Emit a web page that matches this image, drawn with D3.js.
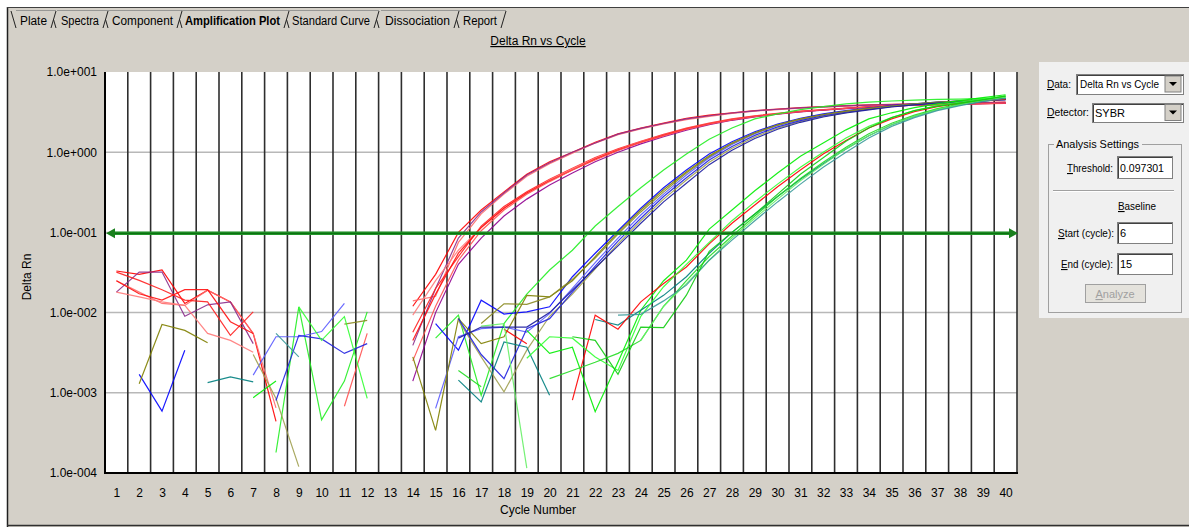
<!DOCTYPE html>
<html><head><meta charset="utf-8">
<script src="https://cdn.jsdelivr.net/npm/d3@7"></script>
<style>
html,body{margin:0;padding:0;background:#fff;overflow:hidden}
svg{display:block;font-family:"Liberation Sans",Arial,sans-serif}
</style></head><body>
<svg id="c" width="1189" height="527"></svg>
<script>
const _ = null;
const cycles = [1,2,3,4,5,6,7,8,9,10,11,12,13,14,15,16,17,18,19,20,21,22,23,24,25,26,27,28,29,30,31,32,33,34,35,36,37,38,39,40];
const yTicks = [10, 1, 0.1, 0.01, 0.001, 0.0001];
const yTickLabels = ["1.0e+001","1.0e+000","1.0e-001","1.0e-002","1.0e-003","1.0e-004"];
const threshold = 0.097301;
const tabNames = ["Plate","Spectra","Component","Amplification Plot","Standard Curve","Dissociation","Report"];
const activeTab = "Amplification Plot";
const chartTitle = "Delta Rn vs Cycle";
const xTitle = "Cycle Number";
const yTitle = "Delta Rn";
const dataSelection = "Delta Rn vs Cycle";
const detector = "SYBR";
const baselineStart = "6";
const baselineEnd = "15";

// Group A (early amplifiers, red / purple)
const A1 = [0.033,0.030,0.034,0.013,0.019,0.0136,0.0055,0.00044,_,_, _,_,_,0.012,0.03,0.10,0.19,0.32,0.53,0.76, 1.0,1.33,1.7,2.0,2.3,2.65,2.9,3.1,3.3,3.45, 3.6,3.7,3.8,3.9,3.95,4.0,4.05,4.1,4.15,4.2];
const A2 = [0.025,0.018,0.013,0.0123,0.019,0.0136,0.0055,0.00065,_,_, _,_,_,0.014,0.016,0.075,0.17,0.30,0.50,0.72, 0.97,1.3,1.65,1.95,2.25,2.55,2.8,3.05,3.25,3.4, 3.55,3.65,3.75,3.85,3.9,3.95,4.0,4.05,4.1,4.15];
const A3 = [0.018,0.032,0.032,0.009,0.0125,0.0136,0.0041,_,_,_, _,_,_,0.0039,0.02,0.085,0.18,0.31,0.52,0.74, 1.0,1.3,1.68,1.98,2.28,2.6,2.85,3.08,3.28,3.43, 3.57,3.68,3.78,3.87,3.93,3.98,4.03,4.08,4.12,4.17];
const A4 = [0.032,0.0252,0.0193,0.0143,0.0136,0.0052,0.0102,_,_,_, _,_,_,0.0057,0.02,0.05,0.12,0.21,0.32,0.46, 0.63,0.86,1.1,1.37,1.67,2.0,2.3,2.6,2.85,3.05, 3.25,3.4,3.55,3.7,3.8,3.9,3.95,4.0,4.05,4.1];
const A5 = [0.018,0.0157,0.0136,0.0123,0.0055,0.0045,0.0032,_,_,_, _,_,_,0.0093,0.025,0.06,0.115,0.2,0.31,0.45, 0.62,0.84,1.08,1.35,1.64,1.97,2.27,2.57,2.82,3.03, 3.22,3.38,3.53,3.67,3.78,3.88,3.94,3.99,4.04,4.09];
const A6 = [0.025,0.0172,0.0143,0.0193,0.0193,0.0077,0.0055,_,_,_, _,_,_,0.0045,0.017,0.055,0.115,0.2,0.31,0.44, 0.6,0.82,1.06,1.33,1.62,1.95,2.25,2.55,2.8,3.0, 3.2,3.36,3.51,3.65,3.76,3.86,3.92,3.97,4.02,4.07];
const A7 = [_,_,_,_,_,_,_,_,_,_, _,_,_,0.0014,0.01,0.04,0.085,0.16,0.26,0.39, 0.55,0.76,1.0,1.27,1.56,1.88,2.2,2.5,2.76,2.98, 3.18,3.34,3.5,3.64,3.75,3.85,3.92,3.98,4.03,4.08];
const A8 = [_,_,_,_,_,_,_,_,_,_, 0.00068,0.0055,_,0.0025,0.012,0.045,0.105,0.19,0.3,0.43, 0.6,0.8,1.05,1.32,1.6,1.93,2.24,2.53,2.78,3.0, 3.2,3.37,3.52,3.66,3.77,3.87,3.93,3.98,4.03,4.08];
// Group B (middle amplifiers, green / blue / olive)
const B1 = [_,_,_,_,_,_,_,0.00018,0.0118,0.00046, 0.0014,0.0102,_,_,0.0048,0.0093,0.00093,0.0073,0.017,0.034, 0.06,0.12,0.21,0.36,0.6,0.95,1.45,2.0,2.6,3.0, 3.4,3.7,4.0,4.2,4.35,4.45,4.55,4.6,4.7,4.8];
const B2 = [_,0.0017,0.00059,0.0034,_,_,_,_,_,_, _,_,_,_,0.0073,0.0034,0.0143,0.0096,0.0102,0.0118, 0.028,0.055,0.105,0.2,0.36,0.6,0.95,1.35,1.8,2.25, 2.65,3.0,3.3,3.55,3.8,4.0,4.2,4.35,4.5,4.6];
const B3 = [_,_,_,_,_,_,0.00166,0.005,0.005,0.0058, 0.013,_,_,_,0.00064,0.005,0.0063,0.0066,0.0057,0.0097, 0.02,0.042,0.085,0.165,0.3,0.52,0.85,1.25,1.7,2.15, 2.55,2.9,3.2,3.5,3.75,3.98,4.18,4.33,4.48,4.58];
const B4 = [_,0.0013,0.0071,0.006,0.0042,_,_,_,_,_, _,_,_,0.0028,0.00034,0.0084,0.0041,0.005,0.0164,0.0157, 0.025,0.05,0.1,0.19,0.34,0.57,0.9,1.3,1.75,2.2, 2.6,2.95,3.25,3.52,3.77,4.0,4.2,4.35,4.5,4.6];
const B5 = [_,_,_,_,_,_,0.003,0.00085,0.00012,_, _,_,_,_,_,0.008,0.0028,0.00103,0.0034,0.009, 0.017,0.035,0.072,0.14,0.26,0.45,0.75,1.12,1.55,2.0, 2.42,2.8,3.12,3.42,3.7,3.93,4.13,4.28,4.43,4.53];
const B6 = [_,_,_,_,_,_,_,0.0008,0.0052,0.0047, 0.0031,0.0041,_,_,_,0.0084,0.003,0.0015,0.0063,0.0084, 0.018,0.038,0.078,0.15,0.28,0.48,0.8,1.18,1.62,2.07, 2.48,2.85,3.16,3.45,3.72,3.95,4.15,4.3,4.45,4.55];
const B7 = [_,_,_,_,_,_,_,_,_,_, 0.0072,0.008,_,_,_,_,0.0073,0.0129,0.0127,0.0157, 0.026,0.048,0.095,0.18,0.32,0.55,0.88,1.28,1.73,2.18, 2.58,2.93,3.23,3.5,3.76,3.99,4.19,4.34,4.49,4.59];
const B8 = [_,_,_,_,_,_,_,_,_,_, _,_,_,_,_,0.0048,0.0066,0.0066,0.0066,0.01, 0.019,0.036,0.068,0.13,0.24,0.41,0.7,1.06,1.48,1.93, 2.36,2.75,3.08,3.38,3.66,3.9,4.1,4.25,4.4,4.5];
// Group C (late amplifiers, green / teal / red)
const C1 = [_,_,_,_,_,_,0.00087,0.0014,_,_, _,_,_,_,_,_,_,_,0.006,0.0031, 0.0037,0.00058,0.0024,0.0107,0.025,0.045,0.11,0.19,0.33,0.55, 0.89,1.3,1.9,2.6,3.1,3.6,4.0,4.4,4.8,5.2];
const C2 = [_,_,_,_,0.00134,0.00158,0.00137,_,_,_, _,_,_,_,_,0.00144,0.00077,0.0043,0.0037,0.00093, _,0.0082,0.007,0.0107,0.0164,0.028,0.055,0.1,0.17,0.28, 0.46,0.72,1.1,1.6,2.2,2.8,3.4,3.9,4.3,4.7];
const C3 = [_,_,_,_,_,_,_,_,_,_, _,_,_,_,_,_,_,0.0062,0.0041,_, 0.00081,0.0093,0.0062,0.0136,0.023,0.037,0.072,0.13,0.22,0.37, 0.6,0.95,1.4,2.0,2.6,3.2,3.7,4.1,4.4,4.6];
const C4 = [_,_,_,_,_,_,_,_,0.0118,0.0045, 0.0089,0.00085,_,_,_,_,_,_,0.0027,0.005, 0.0048,0.0028,0.0019,0.009,0.021,0.04,0.075,0.14,0.24,0.4, 0.65,1.0,1.5,2.1,2.7,3.3,3.8,4.2,4.6,5.0];
const C5 = [_,_,_,_,_,_,_,_,_,_, _,_,_,_,_,0.0019,0.00119,_,_,0.0015, 0.0019,0.0024,0.0031,0.0045,0.012,0.025,0.05,0.09,0.16,0.28, 0.47,0.75,1.15,1.7,2.3,2.9,3.5,4.0,4.5,5.0];
const C6 = [_,_,_,_,_,_,_,_,_,_, _,_,_,_,_,_,0.0068,0.0073,0.000115,_, _,_,_,0.0045,0.012,0.023,0.045,0.085,0.15,0.26, 0.44,0.7,1.1,1.6,2.2,2.8,3.4,3.9,4.4,4.9];
const C7 = [_,_,_,_,_,_,_,0.0055,0.0028,_, _,_,_,_,_,_,_,_,_,_, _,_,0.0093,0.0095,0.014,0.022,0.045,0.08,0.14,0.24, 0.4,0.65,1.0,1.5,2.1,2.7,3.3,3.8,4.3,4.7];
const C8 = [_,_,_,_,_,_,_,_,_,_, _,_,_,_,_,_,_,_,_,_, 0.005,0.0045,0.0017,0.0066,0.0065,0.0165,0.058,0.1,0.17,0.3, 0.53,0.85,1.37,2.0,2.7,3.3,3.75,4.1,4.5,5.0];

const seriesList = [A1,A2,A3,A4,A5,A6,A7,A8,B1,B2,B3,B4,B5,B6,B7,B8,C1,C2,C3,C4,C5,C6,C7,C8];
const seriesColors = ["#ff0000","#ff6a6a","#8b2b8b","#ff2020","#ff7a7a","#ff1010","#900090","#ff5050",
  "#22ee22","#0000ff","#5a5aff","#808000","#a0a050","#2020e0","#8a8a20","#1a1aa0",
  "#00ee00","#008080","#ff0000","#33ff33","#22dd22","#66f066","#3a9a9a","#11cc11"];

const svg = d3.select("#c");
const W = 1189, H = 527;
const P = {l:105, r:1017, t:72, b:473};

// window chrome
svg.append("rect").attr("x",7).attr("y",7).attr("width",W-7).attr("height",H-7).attr("fill","#d4d0c8");
svg.append("line").attr("x1",7.5).attr("x2",7.5).attr("y1",7).attr("y2",H).attr("stroke","#202020").attr("stroke-width",1.5);
svg.append("line").attr("x1",7).attr("x2",W).attr("y1",7.5).attr("y2",7.5).attr("stroke","#404040").attr("stroke-width",1);
svg.append("line").attr("x1",7).attr("x2",W).attr("y1",525.5).attr("y2",525.5).attr("stroke","#303030").attr("stroke-width",1.5);

// tabs
const tabLayout = [[20,27],[61,38],[112,61],[185,95],[292,78],[385,65],[463,34]];
const tg = svg.append("g");
tg.append("line").attr("x1",11).attr("y1",11).attr("x2",16).attr("y2",28).attr("stroke","#222");
tabNames.forEach((t,i)=>{
  const [tx,tw] = tabLayout[i];
  tg.append("text").attr("x",tx).attr("y",25).attr("font-size",12)
    .attr("font-weight", t===activeTab?"bold":"normal").attr("fill","#000")
    .attr("textLength",tw).attr("lengthAdjust","spacingAndGlyphs").text(t);
  const ex = tx+tw+4;
  tg.append("line").attr("x1",ex).attr("y1",28).attr("x2",ex+5).attr("y2",11).attr("stroke","#222");
  if(i<tabNames.length-1){
    tg.append("line").attr("x1",ex+2.5).attr("y1",19.5).attr("x2",ex+5).attr("y2",28).attr("stroke","#222");
  }
  tg.append("line").attr("x1",tx-4).attr("y1",10.5).attr("x2",ex+5).attr("y2",10.5).attr("stroke","#888").attr("stroke-width",0.8);
});

// title
svg.append("text").attr("x",538).attr("y",45).attr("text-anchor","middle").attr("font-size",12)
  .attr("text-decoration","underline").attr("fill","#000").text(chartTitle);

// plot
svg.append("rect").attr("x",P.l).attr("y",P.t).attr("width",P.r-P.l).attr("height",P.b-P.t).attr("fill","#fff");
const x = d3.scaleLinear().domain([0.5,40.5]).range([P.l,P.r]);
const y = d3.scaleLog().domain([1e-4,1e1]).range([P.b,P.t]);

const grid = svg.append("g");
yTicks.filter(v=>v<10 && v>1e-4).forEach(v=>{
  grid.append("line").attr("x1",P.l).attr("x2",P.r).attr("y1",y(v)).attr("y2",y(v)).attr("stroke","#b8b8b8").attr("stroke-width",1.5);
});
cycles.forEach(c=>{
  grid.append("line").attr("x1",x(c+0.5)).attr("x2",x(c+0.5)).attr("y1",P.t).attr("y2",P.b).attr("stroke","#2e2e2e").attr("stroke-width",1.6);
});

svg.append("defs").append("clipPath").attr("id","clip").append("rect")
  .attr("x",P.l).attr("y",P.t).attr("width",P.r-P.l).attr("height",P.b-P.t);
const lineGen = d3.line().defined(d=>d!==null).x((d,i)=>x(cycles[i])).y(d=>y(d));
const lg = svg.append("g").attr("clip-path","url(#clip)");
seriesList.forEach((s,i)=>{
  lg.append("path").datum(s).attr("d",lineGen).attr("fill","none")
    .attr("stroke",seriesColors[i]).attr("stroke-width",1.2).attr("stroke-opacity",0.9);
});

// threshold
const ty = y(threshold);
svg.append("line").attr("x1",x(0.5)+6).attr("x2",x(40.5)-6).attr("y1",ty).attr("y2",ty)
  .attr("stroke","#22962a").attr("stroke-width",3.5);
svg.append("line").attr("x1",x(0.5)+6).attr("x2",x(40.5)-6).attr("y1",ty).attr("y2",ty)
  .attr("stroke","#0c7010").attr("stroke-width",1.2);
svg.append("path").attr("d",`M${x(0.5)+1},${ty} L${x(0.5)+10},${ty-5} L${x(0.5)+10},${ty+5} Z`).attr("fill","#1a801e");
svg.append("path").attr("d",`M${x(40.5)+1},${ty} L${x(40.5)-8},${ty-5} L${x(40.5)-8},${ty+5} Z`).attr("fill","#1a801e");

// borders
svg.append("line").attr("x1",P.l).attr("x2",P.l).attr("y1",P.t).attr("y2",P.b+1).attr("stroke","#000").attr("stroke-width",2);
svg.append("line").attr("x1",P.l).attr("x2",P.r+1).attr("y1",P.b).attr("y2",P.b).attr("stroke","#000").attr("stroke-width",2);

// axes
const yAxis = d3.axisLeft(y).tickValues(yTicks).tickSize(0).tickPadding(8).tickFormat((d,i)=>yTickLabels[i]);
const ya = svg.append("g").attr("transform",`translate(${P.l},0)`).call(yAxis);
ya.select(".domain").remove();
ya.selectAll("text").attr("font-size",12).attr("font-family","Liberation Sans, Arial, sans-serif").attr("fill","#000");
const xAxis = d3.axisBottom(x).tickValues(cycles).tickSize(0).tickPadding(15).tickFormat(d=>d);
const xa = svg.append("g").attr("transform",`translate(0,${P.b})`).call(xAxis);
xa.select(".domain").remove();
xa.selectAll("text").attr("font-size",12).attr("font-family","Liberation Sans, Arial, sans-serif").attr("fill","#000");
svg.append("text").attr("x",538).attr("y",514).attr("text-anchor","middle").attr("font-size",12).attr("fill","#000").text(xTitle);
svg.append("text").attr("transform","translate(31,277) rotate(-90)").attr("text-anchor","middle").attr("font-size",12).attr("fill","#000").text(yTitle);

// right panel
const pn = svg.append("g").attr("font-size",11).attr("fill","#000");
pn.append("rect").attr("x",1039).attr("y",62).attr("width",150).attr("height",256).attr("fill","#f0f0f0");
function ul(g, xx, yy, first, rest, opts={}){
  const t = g.append("text").attr("x",xx).attr("y",yy).attr("font-size",11).attr("fill",opts.fill||"#000");
  if(opts.anchor) t.attr("text-anchor",opts.anchor);
  if(opts.len) t.attr("textLength",opts.len).attr("lengthAdjust","spacingAndGlyphs");
  t.append("tspan").attr("text-decoration","underline").text(first);
  t.append("tspan").text(rest);
  return t;
}
function box(g,x0,y0,w,h){
  g.append("rect").attr("x",x0+0.5).attr("y",y0+0.5).attr("width",w).attr("height",h).attr("fill","#fff").attr("stroke","#808080");
  g.append("path").attr("d",`M${x0+1.5},${y0+h} L${x0+1.5},${y0+1.5} L${x0+w},${y0+1.5}`).attr("fill","none").attr("stroke","#404040");
}
ul(pn,1047,88,"D","ata:",{len:24});
box(pn,1076,74,107,20);
pn.append("text").attr("x",1080).attr("y",88).attr("font-size",11).attr("textLength",79).attr("lengthAdjust","spacingAndGlyphs").text(dataSelection);
function dd(g,x0,y0){
  g.append("rect").attr("x",x0).attr("y",y0).attr("width",16).attr("height",16).attr("fill","#d4d0c8").attr("stroke","#808080");
  g.append("path").attr("d",`M${x0+4},${y0+6} L${x0+12},${y0+6} L${x0+8},${y0+10} Z`).attr("fill","#000");
}
dd(pn,1165,76);
ul(pn,1047,116,"D","etector:",{len:42});
box(pn,1092,103,91,19);
pn.append("text").attr("x",1095).attr("y",117).attr("font-size",11).text(detector);
dd(pn,1165,104.5);
// group box
pn.append("rect").attr("x",1048.5).attr("y",144.5).attr("width",133).attr("height",168).attr("fill","none").attr("stroke","#a0a0a0");
pn.append("rect").attr("x",1054).attr("y",138).attr("width",88).attr("height",12).attr("fill","#f0f0f0");
pn.append("text").attr("x",1056).attr("y",148).attr("font-size",11).attr("textLength",83).attr("lengthAdjust","spacingAndGlyphs").text("Analysis Settings");
ul(pn,1067,172,"T","hreshold:",{len:46});
box(pn,1117,156,55,22);
pn.append("text").attr("x",1120).attr("y",172).attr("font-size",11).attr("textLength",44).attr("lengthAdjust","spacingAndGlyphs").text(threshold.toFixed(6));
pn.append("line").attr("x1",1053).attr("x2",1174).attr("y1",190.5).attr("y2",190.5).attr("stroke","#a0a0a0");
pn.append("line").attr("x1",1053).attr("x2",1174).attr("y1",191.5).attr("y2",191.5).attr("stroke","#fff");
ul(pn,1118,210,"B","aseline",{len:38});
ul(pn,1058,237,"S","tart (cycle):",{len:56});
box(pn,1117,222,55,21);
pn.append("text").attr("x",1120).attr("y",237).attr("font-size",11).text(baselineStart);
ul(pn,1061,268,"E","nd (cycle):",{len:52});
box(pn,1117,253,55,21);
pn.append("text").attr("x",1120).attr("y",268).attr("font-size",11).text(baselineEnd);
pn.append("rect").attr("x",1085.5).attr("y",284.5).attr("width",60).attr("height",18).attr("fill","#e4e2dc").attr("stroke","#a0a0a0");
ul(pn,1115,298,"A","nalyze",{anchor:"middle",fill:"#a0a0a0"});
</script>
</body></html>
